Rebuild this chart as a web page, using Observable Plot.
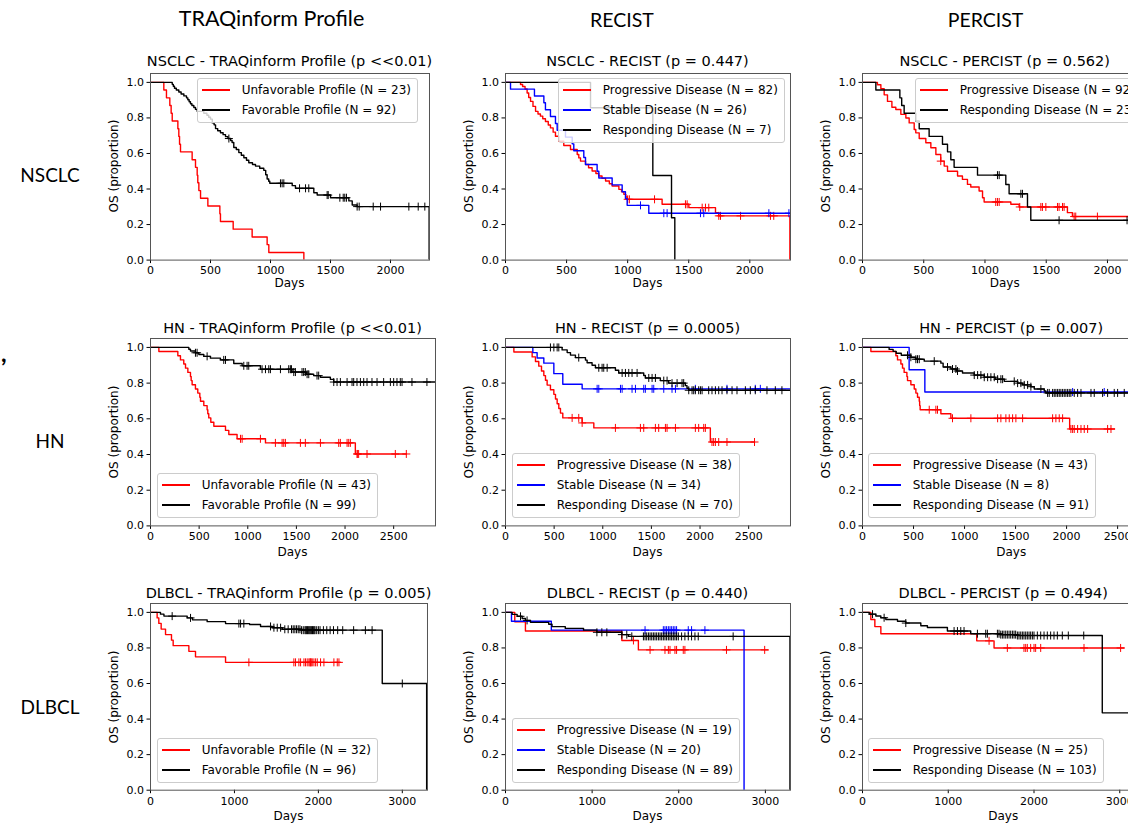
<!DOCTYPE html>
<html><head><meta charset="utf-8">
<script src="https://cdn.jsdelivr.net/npm/d3@7"></script>
<script src="https://cdn.jsdelivr.net/npm/@observablehq/plot@0.6"></script>
<style>
html,body{margin:0;padding:0;background:#fff;}
#fig{position:relative;width:1128px;height:825px;overflow:hidden;background:#fff;font-family:"DejaVu Sans",sans-serif;color:#000;}
.abs{position:absolute;white-space:nowrap;}
.hdr{font-family:Lato,"Open Sans",sans-serif;font-size:19px;line-height:19px;text-align:center;width:300px;}
.ttl{font-size:14.5px;line-height:14.5px;text-align:center;width:400px;}
.axl{font-size:12px;line-height:12px;text-align:center;width:200px;}
.leg{border:1px solid #ccc;border-radius:3px;background:rgba(255,255,255,0.8);padding:1px 6px 2px 4px;font-size:12px;z-index:5;}
.leg .row{height:20px;line-height:20px;display:flex;align-items:center;}
.leg .sw{display:inline-block;width:28px;height:2px;margin-right:11.7px;}
</style></head><body><div id="fig"></div>
<script>
// ---------------- DATA: Kaplan-Meier steps [day, survival] and censor days ----------------
// NSCLC - TRAQinform
const nsclcTraqUnfav = [[0,1],[111,.957],[133,.913],[161,.870],[172,.826],[181,.783],[228,.739],[236,.696],[242,.652],[250,.609],[347,.565],[375,.522],[389,.478],[394,.435],[403,.391],[417,.348],[478,.304],[578,.261],[583,.217],[689,.174],[847,.130],[972,.087],[986,.043],[1278,0]];
const nsclcTraqUnfavCens = [];
const nsclcTraqFav = [[0,1],[181,.989],[190,.978],[200,.967],[215,.957],[236,.946],[255,.935],[278,.924],[300,.913],[311,.902],[322,.891],[333,.880],[345,.870],[361,.859],[375,.848],[389,.837],[444,.826],[470,.815],[485,.804],[500,.793],[515,.772],[530,.761],[542,.740],[560,.728],[583,.717],[605,.706],[625,.695],[645,.684],[667,.673],[680,.662],[694,.634],[715,.622],[736,.605],[757,.590],[778,.576],[800,.562],[819,.548],[850,.538],[875,.529],[910,.517],[944,.505],[960,.480],[972,.456],[985,.444],[994,.432],[1181,.419],[1208,.404],[1361,.379],[1389,.366],[1500,.351],[1653,.333],[1681,.310],[1722,.301],[2322,0]];
const nsclcTraqFavCens = [653,1083,1097,1111,1242,1292,1319,1472,1481,1578,1606,1619,1633,1722,1739,1856,1917,2153,2231,2286];
// NSCLC - RECIST
const nsclcRecistPD = [[0,1],[123,.988],[140,.977],[160,.963],[177,.94],[190,.915],[205,.893],[225,.865],[246,.837],[266,.822],[286,.81],[305,.795],[327,.78],[350,.76],[368,.744],[390,.72],[409,.697],[437,.669],[477,.645],[532,.622],[587,.594],[600,.575],[614,.557],[655,.538],[680,.52],[709,.501],[740,.487],[764,.473],[790,.46],[819,.445],[850,.43],[873,.417],[928,.398],[950,.385],[969,.37],[985,.355],[996,.342],[1282,.314],[1501,.295],[1719,.267],[1746,.249],[2328,0]];
const nsclcRecistPDCens = [1000,1014,1220,1473,1487,1610,1637,1664,1746,1760,1924,2169,2196];
const nsclcRecistSD = [[0,1],[41,.962],[237,.923],[314,.885],[327,.846],[368,.808],[409,.769],[423,.731],[491,.692],[546,.654],[559,.615],[641,.577],[655,.538],[750,.500],[764,.462],[873,.423],[955,.385],[982,.346],[996,.308],[1173,.264],[2330,.264]];
const nsclcRecistSDCens = [1105,1296,1323,1596,1623,2156,2320];
const nsclcRecistRD = [[0,1],[696,.857],[1206,.476],[1359,.238],[1386,0]];
const nsclcRecistRDCens = [];
// NSCLC - PERCIST
const nsclcPercistPD = [[0,1],[122,.987],[150,.964],[177,.93],[204,.893],[240,.86],[272,.847],[313,.82],[354,.80],[381,.772],[422,.735],[435,.716],[463,.684],[517,.66],[558,.632],[599,.594],[639,.557],[667,.529],[694,.50],[776,.473],[816,.454],[857,.426],[884,.411],[952,.389],[980,.351],[993,.327],[1211,.314],[1279,.299],[1673,.267],[1714,.245],[2340,.245]];
const nsclcPercistPDCens = [639,1088,1102,1116,1284,1456,1469,1497,1592,1605,1633,1646,1728,1741,1918,2177];
const nsclcPercistRD = [[0,1],[109,.957],[305,.913],[320,.870],[340,.826],[435,.783],[463,.739],[544,.696],[653,.652],[694,.609],[721,.565],[748,.522],[939,.478],[1170,.425],[1197,.373],[1347,.299],[1374,.224],[2340,.224]];
const nsclcPercistRDCens = [1102,1116,1293,1306,1605,2160];
// HN - TRAQinform
const hnTraqUnfav = [[0,1],[86,.977],[281,.953],[308,.930],[342,.907],[360,.884],[384,.860],[411,.837],[418,.814],[428,.791],[462,.767],[486,.744],[507,.721],[514,.698],[548,.674],[582,.651],[589,.628],[599,.605],[620,.581],[651,.558],[771,.535],[805,.512],[890,.488],[1182,.465],[2106,.403],[2630,.403]];
const hnTraqUnfavCens = [925,942,1130,1284,1353,1370,1387,1541,1592,1747,1935,1952,2021,2038,2055,2123,2130,2140,2226,2517,2630];
const hnTraqFav = [[0,1],[394,.99],[411,.98],[462,.97],[497,.96],[548,.95],[616,.94],[719,.93],[856,.91],[942,.897],[1130,.878],[1455,.862],[1600,.85],[1678,.842],[1747,.833],[1849,.821],[1884,.806],[2928,.806]];
const hnTraqFavCens = [462,479,582,753,771,959,993,1010,1147,1182,1216,1233,1336,1421,1438,1449,1473,1490,1558,1575,1592,1610,1627,1712,1729,1884,1918,1952,2021,2072,2089,2123,2158,2192,2226,2277,2329,2397,2466,2500,2534,2568,2586,2688,2842];
// HN - RECIST
const hnRecistPD = [[0,1],[86,.974],[274,.947],[308,.921],[342,.895],[370,.868],[394,.842],[411,.816],[428,.789],[462,.763],[497,.737],[514,.711],[531,.684],[548,.658],[565,.632],[589,.605],[788,.577],[908,.549],[2106,.470],[2560,.470]];
const hnRecistPDCens = [685,753,788,1130,1387,1421,1541,1575,1644,1661,1747,1952,1986,2038,2055,2123,2140,2158,2192,2277,2560];
const hnRecistSD = [[0,1],[281,.971],[325,.941],[394,.912],[497,.853],[589,.794],[788,.768],[2928,.768]];
const hnRecistSDCens = [942,959,1182,1199,1301,1336,1421,1438,1507,1524,1627,1712,1747,1952,2277,2568,2620];
const hnRecistRD = [[0,1],[582,.986],[634,.971],[668,.957],[719,.943],[822,.929],[839,.914],[890,.90],[925,.886],[1130,.872],[1164,.857],[1421,.843],[1438,.829],[1592,.814],[1678,.80],[1849,.786],[1866,.771],[1884,.760],[2928,.760]];
const hnRecistRDCens = [462,497,531,548,753,959,993,1010,1045,1199,1233,1267,1301,1353,1473,1507,1541,1627,1661,1712,1764,1815,1832,1884,1918,1935,1952,1986,2004,2021,2089,2123,2158,2192,2226,2277,2329,2380,2466,2517,2568,2688,2774,2842];
// HN - PERCIST
const hnPercistPD = [[0,1],[82,.977],[327,.953],[343,.930],[376,.907],[392,.884],[408,.860],[435,.837],[441,.814],[474,.791],[507,.767],[523,.744],[539,.721],[556,.698],[560,.674],[565,.651],[768,.628],[866,.603],[2030,.543],[2470,.543]];
const hnPercistPDCens = [654,719,735,882,1062,1324,1356,1405,1438,1471,1503,1569,1863,1895,1928,1961,2042,2059,2075,2108,2141,2173,2206,2402,2435];
const hnPercistSD = [[0,1],[457,.875],[611,.75],[2930,.75]];
const hnPercistSDCens = [2059,2369];
const hnPercistRD = [[0,1],[261,.989],[300,.978],[330,.967],[380,.956],[474,.945],[523,.934],[605,.923],[768,.912],[790,.89],[866,.879],[920,.868],[980,.857],[1095,.845],[1193,.833],[1300,.822],[1389,.81],[1520,.80],[1569,.79],[1650,.78],[1683,.767],[1781,.756],[1797,.745],[2930,.745]];
const hnPercistRDCens = [441,474,523,539,556,703,833,882,915,931,1095,1128,1160,1193,1226,1258,1291,1324,1356,1373,1487,1520,1552,1585,1618,1650,1748,1814,1830,1863,1879,1895,1912,1928,1944,1961,1977,1993,2010,2026,2042,2075,2108,2141,2239,2271,2353,2402,2467,2500,2565];
// DLBCL - TRAQinform
const dlbclTraqUnfav = [[0,1],[79,.969],[99,.938],[127,.906],[179,.875],[250,.844],[270,.813],[457,.781],[536,.75],[894,.719],[2265,.719]];
const dlbclTraqUnfavCens = [1172,1708,1728,1768,1788,1828,1847,1867,1887,1899,1907,1915,1927,1947,1967,1987,2026,2066,2185,2225,2245];
const dlbclTraqFav = [[0,1],[119,.99],[160,.979],[437,.969],[500,.958],[675,.948],[894,.937],[1180,.932],[1311,.921],[1450,.914],[1570,.905],[1800,.90],[2761,.60],[3290,0]];
const dlbclTraqFavCens = [258,477,1053,1073,1112,1430,1470,1510,1550,1600,1640,1680,1700,1720,1740,1760,1780,1800,1820,1840,1850,1860,1870,1880,1890,1900,1910,1920,1930,1940,1950,1960,1980,2000,2020,2060,2100,2140,2180,2230,2290,2420,2560,2640,3000];
// DLBCL - RECIST
const dlbclRecistPD = [[0,1],[107,.947],[230,.895],[1343,.842],[1534,.789],[3030,.789]];
const dlbclRecistPDCens = [1477,1669,1841,1880,1899,1956,1975,2052,2071,2551,2992];
const dlbclRecistSD = [[0,1],[69,.95],[529,.90],[2754,0]];
const dlbclRecistSDCens = [1611,1822,1841,1860,1880,1899,1918,1937,1956,1975,2110,2148,2302];
const dlbclRecistRD = [[0,1],[77,.989],[134,.978],[192,.966],[230,.955],[288,.944],[499,.933],[537,.92],[690,.91],[901,.90],[1055,.888],[1343,.875],[1419,.865],[3284,.865],[3284,0]];
const dlbclRecistRDCens = [173,249,1055,1112,1170,1343,1400,1458,1592,1611,1630,1650,1669,1688,1707,1726,1745,1765,1784,1803,1822,1841,1860,1880,1899,1918,1937,1956,1975,1995,2033,2071,2110,2148,2187,2225,2628];
// DLBCL - PERCIST
const dlbclPercistPD = [[0,1],[97,.96],[144,.92],[214,.88],[1332,.84],[1534,.80],[3050,.80]];
const dlbclPercistPDCens = [1476,1689,1883,1903,1922,1961,2000,2019,2078,2583,3010];
const dlbclPercistRD = [[0,1],[78,.99],[155,.98],[214,.97],[272,.96],[408,.95],[505,.94],[680,.925],[757,.915],[990,.895],[1262,.88],[1612,.875],[1806,.87],[2796,.435],[3300,.435]];
const dlbclPercistRDCens = [117,252,505,1068,1107,1146,1184,1340,1437,1456,1573,1592,1612,1631,1650,1670,1689,1709,1728,1748,1767,1786,1806,1825,1845,1864,1883,1903,1922,1942,1961,1981,2000,2039,2078,2117,2155,2194,2233,2272,2330,2400,2580];

// titles and labels
const columnHeaders = ["TRAQinform Profile", "RECIST", "PERCIST"];
const rowLabels = ["NSCLC", "HN", "DLBCL"];
const panelTitles = [
  "NSCLC - TRAQinform Profile (p <<0.01)", "NSCLC - RECIST (p = 0.447)", "NSCLC - PERCIST (p = 0.562)",
  "HN - TRAQinform Profile (p <<0.01)", "HN - RECIST (p = 0.0005)", "HN - PERCIST (p = 0.007)",
  "DLBCL - TRAQinform Profile (p = 0.005)", "DLBCL - RECIST (p = 0.440)", "DLBCL - PERCIST (p = 0.494)"];
const xTicksNSCLC = [0,500,1000,1500,2000];
const xTicksHN = [0,500,1000,1500,2000,2500];
const xTicksDLBCL = [0,1000,2000,3000];
const yTicks = [0,0.2,0.4,0.6,0.8,1.0];

// ---------------- LAYOUT ----------------
const RED = "#ff0000", BLUE = "#0000ff", BLACK = "#000000";
const rows = [
  {top:72.7, bot:259.3, ttl:66.7, days:287.5, ticks:xTicksNSCLC},
  {top:338.3, bot:525.7, ttl:333.5, days:556.5, ticks:xTicksHN},
  {top:603.3, bot:790, ttl:598, days:820, ticks:xTicksDLBCL}
];
const colX = [150, 505, 861.7];
const panels = [
  {r:0,c:0,w:279,xmax:2325, leg:{left:197, top:78}, curves:[
    {steps:nsclcTraqUnfav, cens:nsclcTraqUnfavCens, color:RED, label:"Unfavorable Profile (N = 23)"},
    {steps:nsclcTraqFav, cens:nsclcTraqFavCens, color:BLACK, label:"Favorable Profile (N = 92)"}]},
  {r:0,c:1,w:285,xmax:2333, leg:{left:558, top:78}, curves:[
    {steps:nsclcRecistPD, cens:nsclcRecistPDCens, color:RED, label:"Progressive Disease (N = 82)"},
    {steps:nsclcRecistSD, cens:nsclcRecistSDCens, color:BLUE, label:"Stable Disease (N = 26)"},
    {steps:nsclcRecistRD, cens:nsclcRecistRDCens, color:BLACK, label:"Responding Disease (N = 7)"}]},
  {r:0,c:2,w:286,xmax:2335, leg:{left:915, top:78}, curves:[
    {steps:nsclcPercistPD, cens:nsclcPercistPDCens, color:RED, label:"Progressive Disease (N = 92)"},
    {steps:nsclcPercistRD, cens:nsclcPercistRDCens, color:BLACK, label:"Responding Disease (N = 23)"}]},
  {r:1,c:0,w:285,xmax:2930, leg:{left:157, bottom:518}, curves:[
    {steps:hnTraqUnfav, cens:hnTraqUnfavCens, color:RED, label:"Unfavorable Profile (N = 43)"},
    {steps:hnTraqFav, cens:hnTraqFavCens, color:BLACK, label:"Favorable Profile (N = 99)"}]},
  {r:1,c:1,w:285,xmax:2930, leg:{left:512, bottom:518}, curves:[
    {steps:hnRecistPD, cens:hnRecistPDCens, color:RED, label:"Progressive Disease (N = 38)"},
    {steps:hnRecistSD, cens:hnRecistSDCens, color:BLUE, label:"Stable Disease (N = 34)"},
    {steps:hnRecistRD, cens:hnRecistRDCens, color:BLACK, label:"Responding Disease (N = 70)"}]},
  {r:1,c:2,w:299,xmax:2930, leg:{left:868, bottom:518}, curves:[
    {steps:hnPercistPD, cens:hnPercistPDCens, color:RED, label:"Progressive Disease (N = 43)"},
    {steps:hnPercistSD, cens:hnPercistSDCens, color:BLUE, label:"Stable Disease (N = 8)"},
    {steps:hnPercistRD, cens:hnPercistRDCens, color:BLACK, label:"Responding Disease (N = 91)"}]},
  {r:2,c:0,w:277,xmax:3300, leg:{left:157, bottom:783}, curves:[
    {steps:dlbclTraqUnfav, cens:dlbclTraqUnfavCens, color:RED, label:"Unfavorable Profile (N = 32)"},
    {steps:dlbclTraqFav, cens:dlbclTraqFavCens, color:BLACK, label:"Favorable Profile (N = 96)"}]},
  {r:2,c:1,w:285,xmax:3290, leg:{left:512, bottom:783}, curves:[
    {steps:dlbclRecistPD, cens:dlbclRecistPDCens, color:RED, label:"Progressive Disease (N = 19)"},
    {steps:dlbclRecistSD, cens:dlbclRecistSDCens, color:BLUE, label:"Stable Disease (N = 20)"},
    {steps:dlbclRecistRD, cens:dlbclRecistRDCens, color:BLACK, label:"Responding Disease (N = 89)"}]},
  {r:2,c:2,w:283,xmax:3300, leg:{left:868, bottom:783}, curves:[
    {steps:dlbclPercistPD, cens:dlbclPercistPDCens, color:RED, label:"Progressive Disease (N = 25)"},
    {steps:dlbclPercistRD, cens:dlbclPercistRDCens, color:BLACK, label:"Responding Disease (N = 103)"}]}
];

const fig = document.getElementById("fig");
function addText(txt, cls, left, top, extra) {
  const d = document.createElement("div");
  d.className = "abs " + cls;
  d.textContent = txt;
  d.style.left = left + "px";
  d.style.top = top + "px";
  if (extra) Object.assign(d.style, extra);
  fig.appendChild(d);
  return d;
}
const plusSymbol = {draw(ctx, size) {
  const r = Math.sqrt(size / Math.PI);
  ctx.moveTo(-r, 0); ctx.lineTo(r, 0); ctx.moveTo(0, -r); ctx.lineTo(0, r);
}};
function survAt(steps, t) {
  let s = 1;
  for (const [tt, ss] of steps) { if (tt <= t) s = ss; else break; }
  return s;
}

// column headers & row labels (Lato baseline = top + 0.887*size)
const hdrX = [271.5, 622, 985.5];
const hdrSize = [21.5, 19.5, 19.5];
columnHeaders.forEach((t, i) => addText(t, "hdr", hdrX[i] - 150, 27 - 0.887 * hdrSize[i], {fontSize: hdrSize[i] + "px", lineHeight: hdrSize[i] + "px"}));
const rowBase = [182, 448, 714];
rowLabels.forEach((t, i) => addText(t, "hdr", 50 - 150, rowBase[i] - 0.887 * 19));
addText(",", "hdr", 1, 362 - 0.887 * 24, {fontSize: "24px", lineHeight: "24px", fontWeight: "bold", textAlign: "left", width: "10px"});

const ml = 40, mr = 4, mt = 4, mb = 24;
panels.forEach((p, i) => {
  const row = rows[p.r];
  const x0 = colX[p.c];
  const h = row.bot - row.top;
  const marks = [];
  for (const c of p.curves) {
    marks.push(Plot.line(c.steps, {x: d => d[0], y: d => d[1], curve: "step-after", stroke: c.color, strokeWidth: 1.4, clip: true}));
    const cd = c.cens.map(t => ({t, s: survAt(c.steps, t)}));
    marks.push(Plot.dot(cd, {x: "t", y: "s", symbol: plusSymbol, r: 4, stroke: c.color, fill: "none", strokeWidth: 1, clip: true}));
  }
  const svg = Plot.plot({
    width: ml + p.w + mr, height: mt + h + mb,
    marginLeft: ml, marginRight: mr, marginTop: mt, marginBottom: mb,
    style: {fontFamily: "DejaVu Sans", fontSize: "11px", color: "#000", background: "transparent", overflow: "visible"},
    x: {domain: [0, p.xmax]},
    y: {domain: [0, 1.05]},
    marks: [
      Plot.axisX({ticks: row.ticks, tickFormat: d => String(d), tickSize: 3.5, tickPadding: 3, label: null}),
      Plot.axisY({ticks: yTicks, tickFormat: d3.format(".1f"), tickSize: 3.5, tickPadding: 3, label: null}),
      ...marks,
      Plot.frame({stroke: "#555", strokeWidth: 1})
    ]
  });
  svg.style.position = "absolute";
  svg.style.left = (x0 - ml) + "px";
  svg.style.top = (row.top - mt) + "px";
  fig.appendChild(svg);

  // title, axis labels
  addText(panelTitles[i], "ttl", x0 + p.w / 2 - 200, row.ttl - 0.846 * 14.5);
  addText("Days", "axl", x0 + p.w / 2 - 100, row.days - 0.846 * 12);
  const cy = (row.top + row.bot) / 2;
  const cx = x0 - 31.7 - 0.346 * 12;
  addText("OS (proportion)", "axl", cx - 100, cy - 6, {transform: "rotate(-90deg)"});

  // legend
  const lg = document.createElement("div");
  lg.className = "abs leg";
  lg.style.left = p.leg.left + "px";
  const lh = 5 + 20 * p.curves.length;
  lg.style.top = (p.leg.top !== undefined ? p.leg.top : p.leg.bottom - lh) + "px";
  for (const c of p.curves) {
    const rw = document.createElement("div");
    rw.className = "row";
    const sw = document.createElement("span");
    sw.className = "sw";
    sw.style.background = c.color;
    const tx = document.createElement("span");
    tx.textContent = c.label;
    rw.appendChild(sw); rw.appendChild(tx);
    lg.appendChild(rw);
  }
  fig.appendChild(lg);
});
</script></body></html>
